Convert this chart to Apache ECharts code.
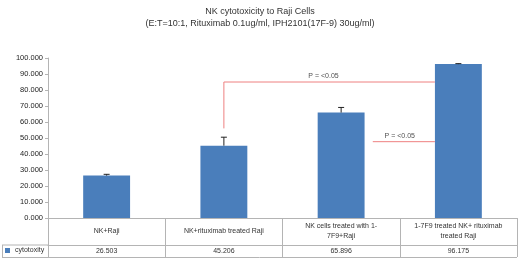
<!DOCTYPE html>
<html>
<head>
<meta charset="utf-8">
<script src="https://cdn.jsdelivr.net/npm/echarts@6/dist/echarts.min.js"></script>
<style>
  html, body { margin: 0; padding: 0; background: #fff; }
  #main { width: 520px; height: 259px; }
</style>
</head>
<body>
<div id="main"></div>
<script>
var categories = ['NK+Raji', 'NK+rituximab treated Raji', 'NK cells treated with 1-\n7F9+Raji', '1-7F9 treated NK+ rituximab\ntreated Raji'];
var cytotoxity = [26.503, 45.206, 65.896, 96.175];
var errors = [0.8, 5.3, 3.2, 0.3];
var yTicks = [0, 10, 20, 30, 40, 50, 60, 70, 80, 90, 100];
// significance brackets, in (category index, value) space
var bracketA = [[1, 56], [1, 85], [2.8, 85]];
var bracketB = [[2.27, 47.7], [2.8, 47.7]];
var pLabels = [[1.85, 88.5, 'P = <0.05'], [2.5, 51.5, 'P = <0.05']];

var font = 'Liberation Sans';
var grey = '#b4b4b4';

var chart = echarts.init(document.getElementById('main'));
var option = {
  animation: false,
  textStyle: { fontFamily: font },
  title: {
    text: 'NK cytotoxicity to Raji Cells\n(E:T=10:1, Rituximab 0.1ug/ml, IPH2101(17F-9) 30ug/ml)',
    left: 'center', top: 1,
    textStyle: { fontSize: 9, fontWeight: 'normal', color: '#333', lineHeight: 12, fontFamily: font }
  },
  legend: {
    data: ['cytotoxity'],
    left: 5, top: 247, padding: 0,
    icon: 'rect', itemWidth: 5, itemHeight: 5, itemGap: 3,
    textStyle: { fontSize: 7, color: '#333', fontFamily: font }
  },
  grid: { left: 48, right: 3, top: 58, bottom: 41 },
  xAxis: [
    {
      type: 'category', data: categories, position: 'bottom',
      axisLine: { lineStyle: { color: grey } },
      axisTick: { show: true, length: 39, lineStyle: { color: grey } },
      axisLabel: { margin: 13, fontSize: 7, color: '#333', verticalAlign: 'middle', lineHeight: 10, interval: 0 }
    },
    {
      type: 'category', data: cytotoxity.map(function (v) { return v.toFixed(3); }),
      position: 'bottom', offset: 27,
      axisLine: { lineStyle: { color: grey } },
      axisTick: { show: true, length: 12, lineStyle: { color: grey } },
      axisLabel: { margin: 6, fontSize: 7, color: '#333', verticalAlign: 'middle', interval: 0 }
    },
    { type: 'value', min: -0.5, max: 3.5, show: false }
  ],
  yAxis: {
    type: 'value', min: yTicks[0], max: yTicks[yTicks.length - 1], interval: 10,
    axisLine: { show: true, onZero: false, lineStyle: { color: grey } },
    axisTick: { show: true, length: 3, lineStyle: { color: grey } },
    splitLine: { show: false },
    axisLabel: { fontSize: 7.5, color: '#222', margin: 5, formatter: function (v) { return v.toFixed(3); } }
  },
  graphic: [
    { type: 'line', shape: { x1: 2, y1: 245, x2: 48, y2: 245 }, style: { stroke: grey, lineWidth: 1 } },
    { type: 'line', shape: { x1: 2, y1: 257.5, x2: 517, y2: 257.5 }, style: { stroke: grey, lineWidth: 1 } },
    { type: 'line', shape: { x1: 2.5, y1: 245, x2: 2.5, y2: 257.5 }, style: { stroke: grey, lineWidth: 1 } }
  ],
  series: [
    {
      name: 'cytotoxity', type: 'bar', data: cytotoxity, barWidth: '40%',
      itemStyle: { color: '#4A7EBB' }
    },
    {
      type: 'custom', name: 'err',
      data: cytotoxity.map(function (v, i) { return [i, v, errors[i]]; }),
      renderItem: function (params, api) {
        var top = api.coord([api.value(0), api.value(1) + api.value(2)]);
        var base = api.coord([api.value(0), api.value(1)]);
        var st = { stroke: '#222', lineWidth: 1 };
        return { type: 'group', children: [
          { type: 'line', shape: { x1: base[0], y1: base[1], x2: top[0], y2: top[1] }, style: st },
          { type: 'line', shape: { x1: top[0] - 3, y1: top[1], x2: top[0] + 3, y2: top[1] }, style: st }
        ] };
      },
      z: 5
    },
    {
      type: 'line', xAxisIndex: 2, data: bracketA, symbol: 'none',
      lineStyle: { color: '#EE8080', width: 1 }, z: 6
    },
    {
      type: 'line', xAxisIndex: 2, data: bracketB, symbol: 'none',
      lineStyle: { color: '#EE8080', width: 1 }, z: 6
    },
    {
      type: 'scatter', xAxisIndex: 2, symbolSize: 0,
      data: pLabels.map(function (p) { return { value: [p[0], p[1]], name: p[2] }; }),
      label: { show: true, position: 'inside', formatter: '{b}', fontSize: 7, color: '#222' },
      z: 7
    }
  ]
};
chart.setOption(option);
</script>
</body>
</html>
